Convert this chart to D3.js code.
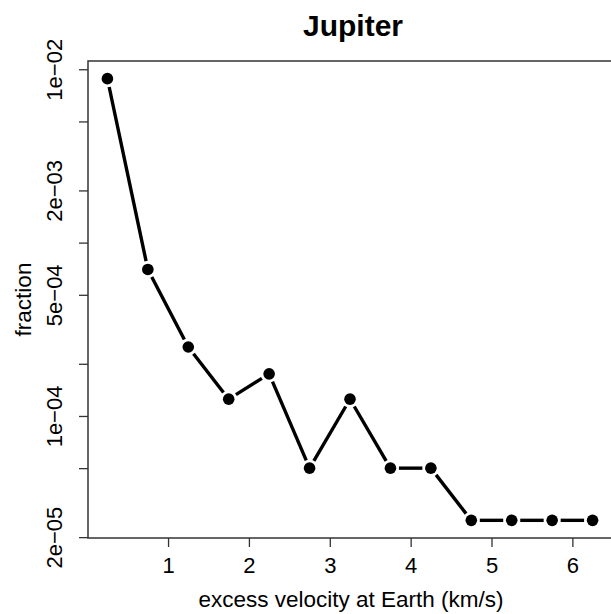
<!DOCTYPE html>
<html>
<head>
<meta charset="utf-8">
<script src="https://cdn.jsdelivr.net/npm/d3@7"></script>
<style>
  html, body { margin: 0; padding: 0; background: #fff; overflow: hidden; }
  svg { display: block; font-family: "Liberation Sans", Arial, Helvetica, sans-serif; }
</style>
</head>
<body>
<div id="chart"></div>
<script>
// velocity bins (km/s) and fraction of impactors per bin
const velocity = [0.25, 0.75, 1.25, 1.75, 2.25, 2.75, 3.25, 3.75, 4.25, 4.75, 5.25, 5.75, 6.25];
const fraction = [8.825e-3, 7.0e-4, 2.5e-4, 1.25e-4, 1.75e-4, 5.0e-5, 1.25e-4, 5.0e-5, 5.0e-5, 2.5e-5, 2.5e-5, 2.5e-5, 2.5e-5];

// axis ticks (R drops overlapping labels, so only some carry text)
const xTicks = [1, 2, 3, 4, 5, 6];
const yTicks = [2e-5, 5e-5, 1e-4, 2e-4, 5e-4, 1e-3, 2e-3, 5e-3, 1e-2];
const yLabelled = [2e-5, 1e-4, 5e-4, 2e-3, 1e-2];

const width = 611, height = 614;
const margin = {top: 61, right: -1, bottom: 76, left: 88};
const plotW = width - margin.left - margin.right;
const plotH = height - margin.top - margin.bottom;

const svg = d3.select("#chart").append("svg")
    .attr("width", width)
    .attr("height", height);

// R style 4% padding around the data range
const xExt = d3.extent(velocity);
const xPad = (xExt[1] - xExt[0]) * 0.04;
const scaleX = d3.scaleLinear([xExt[0] - xPad, xExt[1] + xPad], [margin.left, margin.left + plotW]);

const yLog = d3.extent(fraction).map(Math.log10);
const yPad = (yLog[1] - yLog[0]) * 0.04;
const scaleY = d3.scaleLog([10 ** (yLog[0] - yPad), 10 ** (yLog[1] + yPad)], [margin.top + plotH, margin.top]);

const fmtY = d => d3.format(".0e")(d).replace(/e([+-])(\d)$/, "e$10$2").replace("-", "\u2212");

// axes
const axisX = svg.append("g")
    .attr("transform", `translate(0,${margin.top + plotH})`)
    .call(d3.axisBottom(scaleX).tickValues(xTicks).tickSize(9).tickFormat(d3.format("d")));
axisX.select(".domain").remove();
axisX.selectAll("line").attr("stroke", "#333").attr("stroke-width", 1.3);
axisX.selectAll("text").attr("font-size", 22).attr("fill", "#000")
    .attr("dy", "0.71em").attr("y", 19);

const axisY = svg.append("g")
    .attr("transform", `translate(${margin.left},0)`)
    .call(d3.axisLeft(scaleY).tickValues(yTicks).tickSize(9)
        .tickFormat(d => yLabelled.includes(d) ? fmtY(d) : ""));
axisY.select(".domain").remove();
axisY.selectAll("line").attr("stroke", "#333").attr("stroke-width", 1.3);
axisY.selectAll("text")
    .attr("font-size", 22).attr("fill", "#000")
    .attr("x", null).attr("dy", null)
    .attr("text-anchor", "middle")
    .attr("transform", "translate(-26,0) rotate(-90)");

// plot box
svg.append("rect")
    .attr("x", margin.left).attr("y", margin.top)
    .attr("width", plotW + 2).attr("height", plotH)
    .attr("fill", "none").attr("stroke", "#333").attr("stroke-width", 1.5);

// lines with gaps around the points (type = "b")
const gap = 8.5;
const pts = velocity.map((v, i) => [scaleX(v), scaleY(fraction[i])]);
const segs = d3.pairs(pts).map(([a, b]) => {
    const dx = b[0] - a[0], dy = b[1] - a[1];
    const len = Math.hypot(dx, dy);
    const ux = dx / len, uy = dy / len;
    return [a[0] + ux * gap, a[1] + uy * gap, b[0] - ux * gap, b[1] - uy * gap];
});
svg.append("g").selectAll("line").data(segs).join("line")
    .attr("x1", d => d[0]).attr("y1", d => d[1])
    .attr("x2", d => d[2]).attr("y2", d => d[3])
    .attr("stroke", "#000").attr("stroke-width", 3.4);

svg.append("g").selectAll("circle").data(pts).join("circle")
    .attr("cx", d => d[0]).attr("cy", d => d[1])
    .attr("r", 5.8).attr("fill", "#000");

// titles
svg.append("text")
    .attr("x", 353).attr("y", 36)
    .attr("text-anchor", "middle")
    .attr("font-size", 30).attr("font-weight", "bold")
    .text("Jupiter");

svg.append("text")
    .attr("x", 351).attr("y", 607)
    .attr("text-anchor", "middle")
    .attr("font-size", 22.5)
    .text("excess velocity at Earth (km/s)");

svg.append("text")
    .attr("transform", `translate(31,${margin.top + plotH / 2}) rotate(-90)`)
    .attr("text-anchor", "middle")
    .attr("font-size", 22.5)
    .text("fraction");
</script>
</body>
</html>
